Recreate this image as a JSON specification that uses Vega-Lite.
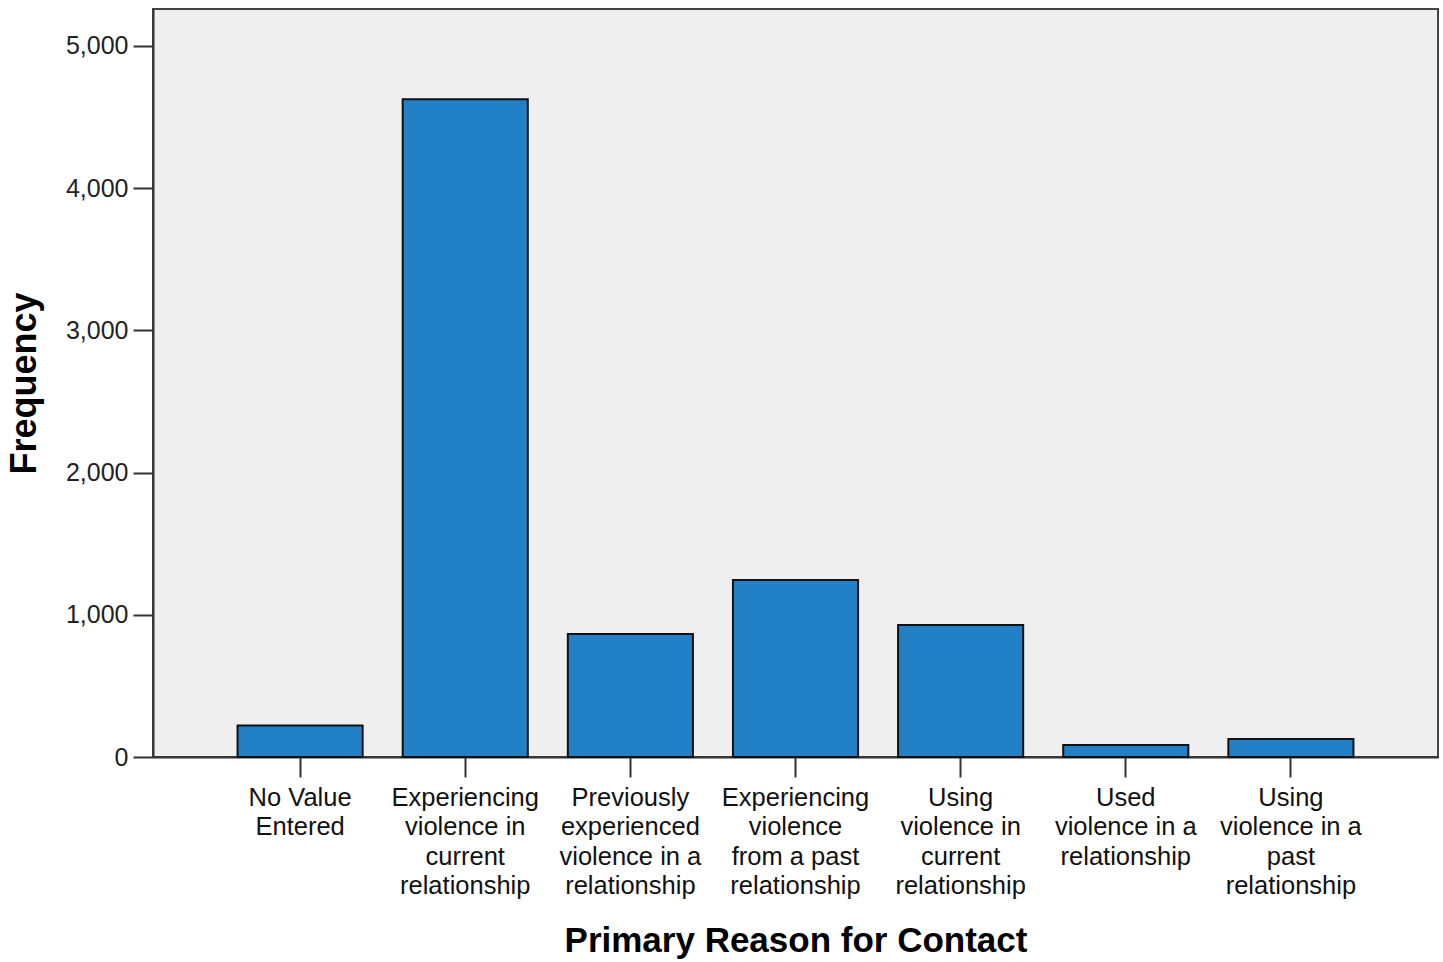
{
  "$schema": "https://vega.github.io/schema/vega-lite/v6.json",
  "autosize": {"type": "none"},
  "padding": {"left": 153, "top": 9, "right": 5, "bottom": 205},
  "width": 1285,
  "height": 748,
  "background": "white",
  "view": {"fill": "#efefef", "stroke": "#444444", "strokeWidth": 2},
  "data": {
    "values": [
      {"reason": "No Value|Entered", "order": 1, "frequency": 222},
      {"reason": "Experiencing|violence in|current|relationship", "order": 2, "frequency": 4625},
      {"reason": "Previously|experienced|violence in a|relationship", "order": 3, "frequency": 865},
      {"reason": "Experiencing|violence|from a past|relationship", "order": 4, "frequency": 1245},
      {"reason": "Using|violence in|current|relationship", "order": 5, "frequency": 928},
      {"reason": "Used|violence in a|relationship", "order": 6, "frequency": 84},
      {"reason": "Using|violence in a|past|relationship", "order": 7, "frequency": 127}
    ]
  },
  "mark": {"type": "bar", "color": "#2281c6", "stroke": "#111111", "strokeWidth": 2},
  "encoding": {
    "x": {
      "field": "reason",
      "type": "nominal",
      "sort": {"field": "order"},
      "scale": {"paddingInner": 0.2424, "paddingOuter": 0.512},
      "axis": {
        "title": "Primary Reason for Contact",
        "titleFont": "Liberation Sans",
        "titleFontSize": 35,
        "titleFontWeight": "bold",
        "titleColor": "#000000",
        "titlePadding": 24,
        "labelExpr": "split(datum.label, '|')",
        "labelAngle": 0,
        "labelFont": "Liberation Sans",
        "labelFontSize": 25.5,
        "labelColor": "#111111",
        "labelLineHeight": 29.5,
        "labelPadding": 8,
        "labelBaseline": "top",
        "tickSize": 20,
        "tickWidth": 2,
        "tickColor": "#333333",
        "domainColor": "#333333",
        "domainWidth": 2
      }
    },
    "y": {
      "field": "frequency",
      "type": "quantitative",
      "scale": {"domain": [0, 5260], "nice": false},
      "axis": {
        "title": "Frequency",
        "titleFont": "Liberation Sans",
        "titleFontSize": 36,
        "titleFontWeight": "bold",
        "titleColor": "#000000",
        "titlePadding": 22,
        "values": [0, 1000, 2000, 3000, 4000, 5000],
        "format": ",d",
        "grid": false,
        "labelFont": "Liberation Sans",
        "labelFontSize": 25,
        "labelColor": "#222222",
        "labelPadding": 5,
        "tickSize": 20,
        "tickWidth": 2,
        "tickColor": "#333333",
        "domainColor": "#333333",
        "domainWidth": 2
      }
    }
  }
}
